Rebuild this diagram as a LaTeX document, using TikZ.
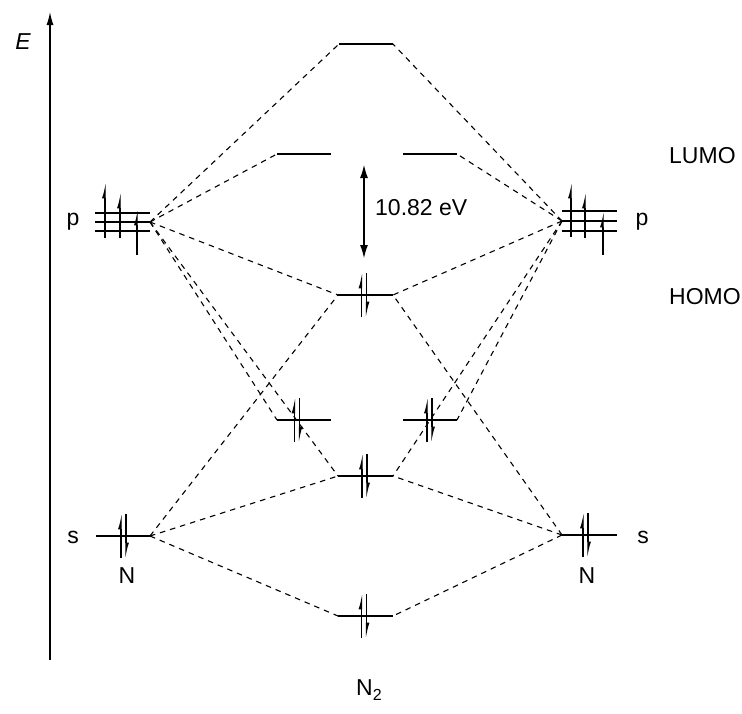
\documentclass[tikz,border=0pt]{standalone}
\usepackage{fontspec}
\setmainfont{Liberation Sans}
\usetikzlibrary{arrows.meta}
% energy level: x from, x to, y, name -> coordinates <name>L and <name>R
\newcommand\mlev[4]{\draw[level] (#1,#3) coordinate (#4L) -- (#2,#3) coordinate (#4R);}
% paired electrons centred at (x,y)
\newcommand\elpair[2]{%
  \draw[spin] ({#1-2.5},{#2+22}) -- ({#1-2.5},{#2-22});
  \draw[spin] ({#1+2.5},{#2-22}) -- ({#1+2.5},{#2+22});}
\begin{document}
\begin{tikzpicture}[x=1pt,y=-1pt,
  level/.style={line width=1.5pt},
  link/.style={line width=1.1pt, dash pattern=on 5.5pt off 5pt},
  spin/.style={line width=1.1pt,-{Latex[harpoon,length=12pt,width=6pt]}},
  lbl/.style={font=\fontsize{23}{27}\selectfont, inner sep=0pt}]
\useasboundingbox (0,0) rectangle (742,713);

% energy axis
\draw[line width=1.2pt,-{Latex[length=13pt,width=7pt]}] (50,660) coordinate (axb) -- (50,12) coordinate (axt);
\node[lbl] (elab) at (23,42) {\itshape E};

% atomic levels, left N
\mlev{95}{150}{213}{pa}
\mlev{95}{150}{222}{pb}
\mlev{95}{150}{231}{pc}
\mlev{96}{150}{536}{sl}
% atomic levels, right N
\mlev{562}{617}{211}{qa}
\mlev{562}{617}{221}{qb}
\mlev{562}{617}{231}{qc}
\mlev{562}{617}{535}{sr}

% molecular levels
\mlev{339}{393}{44}{ssp}
\mlev{277}{331}{154}{pisl}
\mlev{403}{457}{154}{pisr}
\mlev{338}{393}{295}{sp}
\mlev{277}{331}{420}{pil}
\mlev{403}{457}{420}{pir}
\mlev{338}{393}{476}{sss}
\mlev{338}{393}{616}{ss}

% correlation lines
\foreach \t in {sspL,pislL,spL,pilL,sssL} \draw[link] (pbR) -- (\t);
\foreach \t in {sspR,pisrR,spR,pirR,sssR} \draw[link] (qbL) -- (\t);
\foreach \t in {spL,sssL,ssL} \draw[link] (slR) -- (\t);
\foreach \t in {spR,sssR,ssR} \draw[link] (srL) -- (\t);

% unpaired p electrons
\draw[spin] (105,238) -- (105,183);
\draw[spin] (120,238) -- (120,193);
\draw[spin] (137,255) -- (137,210);
\draw[spin] (571,237) -- (571,183);
\draw[spin] (585,238) -- (585,193);
\draw[spin] (603,255) -- (603,212);

% paired electrons
\elpair{123.5}{536}
\elpair{585.5}{535}
\elpair{364}{295}
\elpair{297}{420}
\elpair{429.5}{420}
\elpair{364.5}{476}
\elpair{364}{616}

% HOMO-LUMO gap
\coordinate (gapT) at (364,165);
\coordinate (gapB) at (364,258);
\draw[line width=1.1pt,{Latex[length=13pt,width=8pt]}-{Latex[length=13pt,width=8pt]}] (gapT) -- (gapB);
\node[lbl,anchor=west] (gap) at (375,208) {10.82 eV};

% labels
\node[lbl] (pleft) at (73,222) {p};
\node[lbl] (pright) at (642,222) {p};
\node[lbl] (sleft) at (73,537) {s};
\node[lbl] (sright) at (643,537) {s};
\node[lbl] (nleft) at (127,576) {N};
\node[lbl] (nright) at (587,576) {N};
\node[lbl] (ntwo) at (369,690) {N\raisebox{-5pt}{\fontsize{16}{16}\selectfont 2}};
\node[lbl,anchor=west] (lumo) at (669,156) {LUMO};
\node[lbl,anchor=west] (homo) at (669,297) {HOMO};
\end{tikzpicture}
\end{document}
